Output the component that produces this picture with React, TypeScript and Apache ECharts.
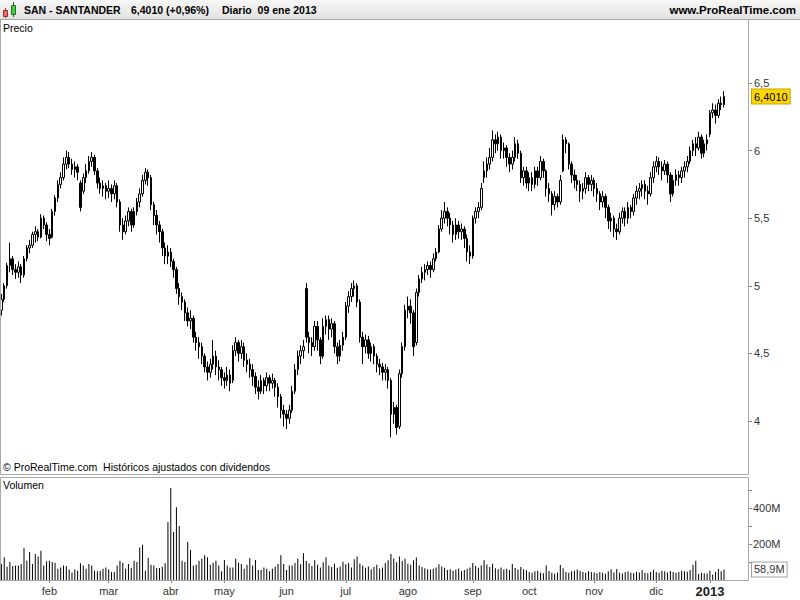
import React, { useEffect, useRef } from "react";
import * as echarts from "echarts";

// [open, close, low, high] per trading day, by month
const jan12 = [[4.82,4.90,4.78,4.94],[4.90,5.00,4.88,5.02],[5.00,5.15,4.98,5.17],[5.15,5.20,5.10,5.32],[5.20,5.12,5.08,5.22],[5.12,5.10,5.05,5.16],[5.10,5.14,5.06,5.18],[5.14,5.08,5.02,5.16],[5.08,5.20,5.06,5.22],[5.20,5.28,5.18,5.30],[5.28,5.30,5.24,5.34],[5.30,5.38,5.28,5.40],[5.38,5.40,5.32,5.44],[5.40,5.36,5.33,5.42],[5.36,5.50,5.35,5.53],[5.50,5.45,5.42,5.52],[5.45,5.38,5.33,5.47]];
const feb12 = [[5.38,5.35,5.30,5.42],[5.36,5.55,5.35,5.57],[5.55,5.65,5.52,5.67],[5.65,5.75,5.62,5.78],[5.75,5.80,5.72,5.84],[5.80,5.90,5.78,5.95],[5.90,5.95,5.86,6.00],[5.95,5.90,5.87,5.99],[5.90,5.86,5.82,5.94],[5.86,5.88,5.80,5.92],[5.88,5.84,5.78,5.90],[5.76,5.58,5.55,5.78],[5.70,5.80,5.68,5.83],[5.80,5.85,5.76,5.90],[5.85,5.92,5.83,5.96],[5.92,5.95,5.88,5.99],[5.95,5.85,5.82,5.97],[5.85,5.76,5.72,5.87],[5.76,5.72,5.68,5.80],[5.72,5.74,5.66,5.78],[5.74,5.70,5.64,5.76]];
const mar12 = [[5.70,5.72,5.65,5.78],[5.72,5.68,5.62,5.75],[5.68,5.74,5.64,5.78],[5.74,5.62,5.58,5.76],[5.62,5.45,5.40,5.64],[5.45,5.40,5.34,5.50],[5.40,5.48,5.38,5.52],[5.48,5.55,5.44,5.58],[5.55,5.45,5.40,5.57],[5.45,5.55,5.43,5.58],[5.55,5.62,5.52,5.65],[5.62,5.68,5.58,5.72],[5.68,5.78,5.66,5.82],[5.78,5.84,5.75,5.87],[5.84,5.80,5.74,5.86],[5.80,5.60,5.56,5.82],[5.60,5.52,5.45,5.62],[5.52,5.45,5.38,5.56],[5.45,5.40,5.32,5.48],[5.40,5.28,5.22,5.42],[5.28,5.22,5.16,5.32],[5.22,5.25,5.16,5.30]];
const apr12 = [[5.25,5.18,5.14,5.28],[5.18,5.12,5.06,5.20],[5.12,4.98,4.94,5.14],[4.98,4.92,4.86,5.02],[4.92,4.88,4.82,4.95],[4.88,4.80,4.74,4.90],[4.80,4.74,4.70,4.84],[4.74,4.76,4.68,4.82],[4.76,4.62,4.58,4.78],[4.62,4.58,4.52,4.66],[4.58,4.55,4.46,4.62],[4.55,4.48,4.42,4.58],[4.48,4.40,4.36,4.50],[4.40,4.36,4.30,4.44],[4.36,4.42,4.32,4.46],[4.42,4.48,4.38,4.60],[4.48,4.40,4.34,4.52],[4.40,4.38,4.30,4.45],[4.38,4.32,4.26,4.40]];
const may12 = [[4.32,4.30,4.24,4.36],[4.30,4.34,4.26,4.40],[4.34,4.28,4.22,4.38],[4.30,4.52,4.28,4.56],[4.52,4.58,4.48,4.62],[4.58,4.50,4.44,4.60],[4.50,4.55,4.46,4.60],[4.55,4.45,4.40,4.58],[4.45,4.42,4.36,4.50],[4.42,4.38,4.32,4.46],[4.38,4.33,4.26,4.42],[4.33,4.25,4.20,4.36],[4.25,4.22,4.16,4.30],[4.22,4.30,4.20,4.34],[4.30,4.26,4.20,4.32],[4.26,4.32,4.22,4.36],[4.32,4.28,4.22,4.34],[4.28,4.30,4.24,4.35],[4.30,4.25,4.18,4.32],[4.25,4.18,4.10,4.28],[4.18,4.08,4.02,4.20],[4.08,4.05,3.96,4.12]];
const jun12 = [[4.05,4.02,3.94,4.08],[4.02,4.08,3.98,4.12],[4.08,4.22,4.06,4.26],[4.22,4.38,4.20,4.42],[4.38,4.48,4.34,4.52],[4.48,4.52,4.42,4.56],[4.52,4.55,4.46,4.60],[4.98,4.62,4.58,5.02],[4.62,4.58,4.50,4.66],[4.58,4.55,4.48,4.62],[4.55,4.70,4.52,4.74],[4.70,4.60,4.52,4.74],[4.60,4.48,4.42,4.62],[4.48,4.70,4.46,4.76],[4.70,4.75,4.64,4.78],[4.75,4.68,4.60,4.78],[4.68,4.72,4.62,4.76],[4.72,4.55,4.50,4.74],[4.55,4.48,4.42,4.58],[4.48,4.56,4.44,4.60],[4.56,4.62,4.52,4.66]];
const jul12 = [[4.62,4.85,4.60,4.88],[4.85,4.92,4.80,4.96],[4.92,4.98,4.88,5.02],[4.98,5.00,4.92,5.04],[5.00,4.88,4.84,5.02],[4.88,4.62,4.58,4.90],[4.62,4.55,4.42,4.66],[4.55,4.60,4.50,4.64],[4.60,4.50,4.46,4.63],[4.50,4.55,4.44,4.58],[4.55,4.48,4.42,4.57],[4.48,4.42,4.36,4.50],[4.42,4.40,4.34,4.46],[4.40,4.36,4.30,4.43],[4.36,4.38,4.30,4.42],[4.38,4.30,4.24,4.40],[4.30,4.05,3.88,4.32],[4.05,4.10,3.98,4.14],[4.10,3.95,3.90,4.12],[3.96,4.35,3.94,4.38],[4.35,4.55,4.32,4.58],[4.55,4.82,4.52,4.86]];
const aug12 = [[4.82,4.85,4.76,4.92],[4.85,4.80,4.72,4.90],[4.80,4.55,4.48,4.82],[4.58,4.95,4.56,4.98],[4.95,5.05,4.92,5.08],[5.05,5.10,5.02,5.14],[5.10,5.12,5.04,5.16],[5.12,5.15,5.08,5.18],[5.15,5.12,5.06,5.18],[5.12,5.20,5.10,5.24],[5.20,5.25,5.18,5.28],[5.25,5.42,5.24,5.45],[5.42,5.50,5.40,5.56],[5.50,5.55,5.46,5.62],[5.55,5.50,5.44,5.58],[5.50,5.45,5.38,5.54],[5.45,5.38,5.32,5.48],[5.38,5.45,5.34,5.50],[5.45,5.40,5.35,5.48],[5.40,5.42,5.34,5.46],[5.42,5.35,5.28,5.44],[5.35,5.25,5.18,5.38],[5.25,5.22,5.16,5.30]];
const sep12 = [[5.22,5.50,5.20,5.52],[5.50,5.55,5.46,5.58],[5.55,5.58,5.50,5.62],[5.58,5.72,5.56,5.76],[5.80,5.85,5.76,5.92],[5.85,5.90,5.80,5.95],[5.90,5.95,5.86,6.02],[5.95,6.08,5.92,6.15],[6.08,6.05,5.98,6.12],[6.05,6.10,6.00,6.14],[6.10,6.00,5.94,6.12],[6.00,6.02,5.94,6.06],[6.02,5.95,5.88,6.04],[5.95,5.90,5.84,5.98],[5.90,5.95,5.86,6.00],[5.95,6.05,5.92,6.10],[6.05,5.98,5.94,6.08],[5.98,5.80,5.76,6.00],[5.80,5.85,5.74,5.88],[5.85,5.76,5.72,5.88]];
const oct12 = [[5.76,5.80,5.70,5.84],[5.80,5.75,5.70,5.84],[5.75,5.85,5.72,5.88],[5.85,5.80,5.74,5.88],[5.80,5.92,5.78,5.96],[5.92,5.85,5.80,5.94],[5.85,5.72,5.66,5.86],[5.72,5.68,5.62,5.76],[5.68,5.60,5.52,5.70],[5.60,5.66,5.56,5.70],[5.66,5.62,5.58,5.68],[5.62,5.78,5.60,5.82],[5.85,6.08,5.84,6.12],[6.08,6.05,5.98,6.10],[6.05,5.90,5.86,6.06],[5.90,5.82,5.76,5.92],[5.82,5.78,5.72,5.86],[5.78,5.75,5.70,5.82],[5.75,5.70,5.62,5.78],[5.70,5.72,5.64,5.76],[5.72,5.80,5.68,5.84],[5.80,5.75,5.70,5.82],[5.75,5.78,5.70,5.82]];
const nov12 = [[5.78,5.72,5.66,5.80],[5.72,5.68,5.62,5.76],[5.68,5.62,5.56,5.70],[5.62,5.66,5.58,5.70],[5.66,5.58,5.50,5.68],[5.58,5.48,5.42,5.60],[5.48,5.50,5.40,5.54],[5.50,5.42,5.36,5.52],[5.42,5.40,5.34,5.46],[5.40,5.50,5.38,5.54],[5.50,5.55,5.46,5.58],[5.55,5.50,5.44,5.58],[5.50,5.58,5.46,5.62],[5.58,5.55,5.50,5.60],[5.55,5.65,5.52,5.68],[5.65,5.70,5.60,5.74],[5.70,5.72,5.64,5.76],[5.72,5.75,5.66,5.78],[5.75,5.70,5.64,5.78],[5.70,5.68,5.60,5.74],[5.68,5.80,5.66,5.84],[5.80,5.88,5.76,5.92]];
const dec12 = [[5.88,5.92,5.84,5.96],[5.92,5.88,5.82,5.95],[5.88,5.85,5.78,5.92],[5.85,5.90,5.82,5.93],[5.90,5.82,5.76,5.92],[5.82,5.68,5.62,5.84],[5.68,5.78,5.66,5.82],[5.78,5.82,5.74,5.86],[5.82,5.80,5.74,5.85],[5.80,5.85,5.76,5.88],[5.85,5.88,5.80,5.92],[5.88,5.92,5.84,5.96],[5.92,6.00,5.90,6.03],[6.00,6.05,5.96,6.08],[6.05,6.02,5.96,6.10],[6.02,6.10,6.00,6.14],[6.10,5.98,5.94,6.12],[5.98,6.05,5.95,6.08],[6.05,6.08,6.00,6.12]];
const jan13 = [[6.12,6.28,6.10,6.30],[6.28,6.30,6.24,6.35],[6.30,6.26,6.20,6.34],[6.26,6.35,6.24,6.38],[6.35,6.34,6.30,6.40],[6.34,6.401,6.32,6.44]];

// volume in millions of shares
const volJan12 = [89,126,74,100,78,81,81,89,178,107,156,89,144,130,163,81,104];
const volFeb12 = [107,100,96,63,70,81,78,59,41,59,52,93,81,63,89,81,52,48,52,63,70];
const volMar12 = [59,44,44,81,107,96,63,89,67,107,100,181,196,52,122,85,81,67,67,74,93,322];
const volApr12 = [511,267,404,300,107,100,211,167,81,85,107,118,137,126,85,96,107,81,48];
const volMay12 = [111,81,70,70,118,96,89,63,85,122,81,111,56,56,70,63,48,63,74,89,137,89];
const volJun12 = [56,81,81,95,120,88,150,105,92,78,110,85,70,98,125,80,72,90,68,75,102];
const volJul12 = [88,95,70,115,130,92,80,68,75,60,72,85,64,70,95,110,145,120,98,130,105,118];
const volAug12 = [90,85,110,125,80,72,65,60,58,62,70,88,75,68,55,60,52,58,64,50,55,62,70];
const volSep12 = [95,78,68,82,110,86,72,90,65,60,70,58,62,55,89,66,58,72,60,54];
const volOct12 = [45,40,48,52,42,38,80,50,40,35,42,83,65,45,40,48,52,58,50,45,40,48,44];
const volNov12 = [42,38,45,40,35,48,60,42,61,40,36,44,48,40,38,46,42,55,40,38,44,57];
const volDec12 = [45,40,52,48,42,50,45,40,44,52,48,46,55,85,107,33,40,38,36];
const volJan13 = [52,30,45,61,48,58.9];

const startDate = "2012-01-09";
const holidays = ["2012-04-06", "2012-04-09", "2012-05-01", "2012-12-25", "2012-12-26", "2013-01-01"];
const padDays = 8;
const monthNames = ["ene", "feb", "mar", "abr", "may", "jun", "jul", "ago", "sep", "oct", "nov", "dic"];
const priceTicks = [4, 4.5, 5, 5.5, 6, 6.5];
const volTicks = [100, 200, 300, 400, 500];
const volLabels = [200, 400];

const FONT = '"Liberation Sans", Arial, sans-serif';

const candles = [...jan12, ...feb12, ...mar12, ...apr12, ...may12, ...jun12, ...jul12, ...aug12, ...sep12, ...oct12, ...nov12, ...dec12, ...jan13];
const volumes = [...volJan12, ...volFeb12, ...volMar12, ...volApr12, ...volMay12, ...volJun12, ...volJul12, ...volAug12, ...volSep12, ...volOct12, ...volNov12, ...volDec12, ...volJan13];

function tradingDays(start: string, count: number): string[] {
  const out: string[] = [];
  const d = new Date(start + "T12:00:00Z");
  while (out.length < count) {
    const wd = d.getUTCDay();
    const s = d.toISOString().slice(0, 10);
    if (wd !== 0 && wd !== 6 && holidays.indexOf(s) < 0) out.push(s);
    d.setUTCDate(d.getUTCDate() + 1);
  }
  return out;
}

const dates = tradingDays(startDate, candles.length + padDays);

const fmtNum = (v: number, d?: number) => (d === undefined ? String(v) : v.toFixed(d)).replace(".", ",");

export default function App() {
  const ref = useRef<HTMLDivElement>(null);
  useEffect(() => {
    document.body.style.margin = "0";
    if (!ref.current) return;
    const chart = echarts.init(ref.current, undefined, { renderer: "svg" });

    const n = candles.length;
    const lastClose = candles[n - 1][1];
    const prevClose = candles[n - 2][1];
    const pct = (lastClose / prevClose - 1) * 100;
    const lastDate = dates[n - 1];
    const headerPrice = `${fmtNum(lastClose, 4)} (${pct >= 0 ? "+" : ""}${fmtNum(pct, 2)}%)`;
    const headerDate = `Diario  ${lastDate.slice(8, 10)} ${monthNames[+lastDate.slice(5, 7) - 1]} ${lastDate.slice(0, 4)}`;
    const lastVol = volumes[n - 1];

    const isMonthStart = (i: number) => i > 0 && i < dates.length && dates[i].slice(0, 7) !== dates[i - 1].slice(0, 7);

    const option: any = {
      animation: false,
      backgroundColor: "#ffffff",
      textStyle: { fontFamily: FONT },
      grid: [
        { left: 0, top: 20, width: 748, height: 454 },
        { left: 0, top: 477, width: 748, height: 103 },
      ],
      xAxis: [
        {
          type: "category", gridIndex: 0, data: dates, boundaryGap: true,
          axisLine: { show: false }, axisTick: { show: false }, axisLabel: { show: false }, splitLine: { show: false },
        },
        {
          type: "category", gridIndex: 1, data: dates, boundaryGap: true,
          axisLine: { show: false },
          axisTick: { show: true, interval: (i: number) => isMonthStart(i), alignWithLabel: true, length: 3, lineStyle: { color: "#808080" } },
          axisLabel: {
            interval: (i: number) => isMonthStart(i),
            margin: 5, color: "#333", fontSize: 11, fontFamily: FONT,
            formatter: (v: string) => {
              const m = +v.slice(5, 7);
              return m === 1 ? `{y|${v.slice(0, 4)}}` : monthNames[m - 1];
            },
            rich: { y: { fontWeight: "bold", fontSize: 13, color: "#222", fontFamily: FONT } },
          },
          splitLine: { show: false },
        },
      ],
      yAxis: [
        {
          type: "value", gridIndex: 0, position: "right", min: 3.608, max: 6.966, scale: true,
          axisLine: { show: false }, splitLine: { show: false },
          axisTick: { show: true, customValues: priceTicks, length: 4, lineStyle: { color: "#808080" } },
          axisLabel: { customValues: priceTicks, margin: 6, color: "#333", fontSize: 11, fontFamily: FONT, formatter: (v: number) => fmtNum(v) },
        },
        {
          type: "value", gridIndex: 1, position: "right", min: 0, max: 572,
          axisLine: { show: false }, splitLine: { show: false },
          axisTick: { show: true, customValues: volTicks, length: 4, lineStyle: { color: "#808080" } },
          axisLabel: { customValues: volLabels, margin: 5, color: "#333", fontSize: 11, fontFamily: FONT, formatter: (v: number) => v + "M" },
        },
      ],
      series: [
        {
          type: "candlestick", xAxisIndex: 0, yAxisIndex: 0, data: candles, barWidth: 2,
          itemStyle: { color: "#ffffff", color0: "#000000", borderColor: "#000000", borderColor0: "#000000", borderWidth: 1 },
          markLine: {
            silent: true, symbol: "none", lineStyle: { color: "rgba(0,0,0,0)", width: 0 },
            data: [{ yAxis: lastClose }],
            label: {
              show: true, position: "end", distance: 4, formatter: fmtNum(lastClose, 4), color: "#000", fontSize: 11, fontFamily: FONT,
              backgroundColor: "#ffd700", borderColor: "#c8a000", borderWidth: 1, padding: [2, 2, 1, 2],
            },
          },
        },
        {
          type: "bar", xAxisIndex: 1, yAxisIndex: 1, data: volumes, barWidth: 1,
          itemStyle: { color: "#000000" },
          markLine: {
            silent: true, symbol: "none", lineStyle: { color: "rgba(0,0,0,0)", width: 0 },
            data: [{ yAxis: lastVol }],
            label: {
              show: true, position: "end", distance: 4, formatter: fmtNum(lastVol) + "M", color: "#333", fontSize: 11, fontFamily: FONT,
              backgroundColor: "#ffffff", borderColor: "#a0a0a0", borderWidth: 1, padding: [2, 2, 1, 2],
            },
          },
        },
      ],
      graphic: [
        {
          type: "rect", z: 100, shape: { x: 0, y: 0, width: 800, height: 19 },
          style: { fill: new echarts.graphic.LinearGradient(0, 0, 0, 1, [{ offset: 0, color: "#f7f7f7" }, { offset: 1, color: "#e2e2e2" }]) },
        },
        { type: "line", z: 101, shape: { x1: 0, y1: 19.5, x2: 800, y2: 19.5 }, style: { stroke: "#a8a8a8", lineWidth: 1 } },
        // icon
        { type: "line", z: 102, shape: { x1: 5.5, y1: 8, x2: 5.5, y2: 18 }, style: { stroke: "#a03030", lineWidth: 1 } },
        { type: "rect", z: 103, shape: { x: 3.5, y: 10.5, width: 4, height: 6 }, style: { fill: "#f06a6a", stroke: "#a03030", lineWidth: 1 } },
        { type: "line", z: 102, shape: { x1: 13.5, y1: 2, x2: 13.5, y2: 17 }, style: { stroke: "#207020", lineWidth: 1 } },
        { type: "rect", z: 103, shape: { x: 11.5, y: 5.5, width: 4, height: 9 }, style: { fill: "#44cc44", stroke: "#207020", lineWidth: 1 } },
        { type: "text", z: 104, style: { text: "SAN - SANTANDER", x: 24, y: 10, fill: "#000", font: `bold 10.5px ${FONT}`, verticalAlign: "middle" } },
        { type: "text", z: 104, style: { text: headerPrice, x: 131, y: 10, fill: "#000", font: `bold 10.5px ${FONT}`, verticalAlign: "middle" } },
        { type: "text", z: 104, style: { text: headerDate, x: 222, y: 10, fill: "#000", font: `bold 10.5px ${FONT}`, verticalAlign: "middle" } },
        { type: "text", z: 104, style: { text: "www.ProRealTime.com", x: 796, y: 10, fill: "#000", font: `bold 11.5px ${FONT}`, verticalAlign: "middle", align: "right" } },
        // panel frames
        { type: "rect", z: 50, shape: { x: 0.5, y: 19.5, width: 748, height: 455 }, style: { fill: "none", stroke: "#a8a8a8", lineWidth: 1 } },
        { type: "rect", z: 50, shape: { x: 0.5, y: 477.5, width: 748, height: 103 }, style: { fill: "none", stroke: "#a8a8a8", lineWidth: 1 } },
        { type: "text", z: 60, style: { text: "Precio", x: 3, y: 28, fill: "#000", font: `10.5px ${FONT}`, verticalAlign: "middle" } },
        { type: "text", z: 60, style: { text: "© ProRealTime.com  Históricos ajustados con dividendos", x: 3, y: 467, fill: "#000", font: `10.5px ${FONT}`, verticalAlign: "middle" } },
        { type: "text", z: 60, style: { text: "Volumen", x: 3, y: 485, fill: "#000", font: `10.5px ${FONT}`, verticalAlign: "middle" } },
      ],
    };
    chart.setOption(option);
    return () => chart.dispose();
  }, []);
  return <div ref={ref} style={{ width: 800, height: 600 }} />;
}
